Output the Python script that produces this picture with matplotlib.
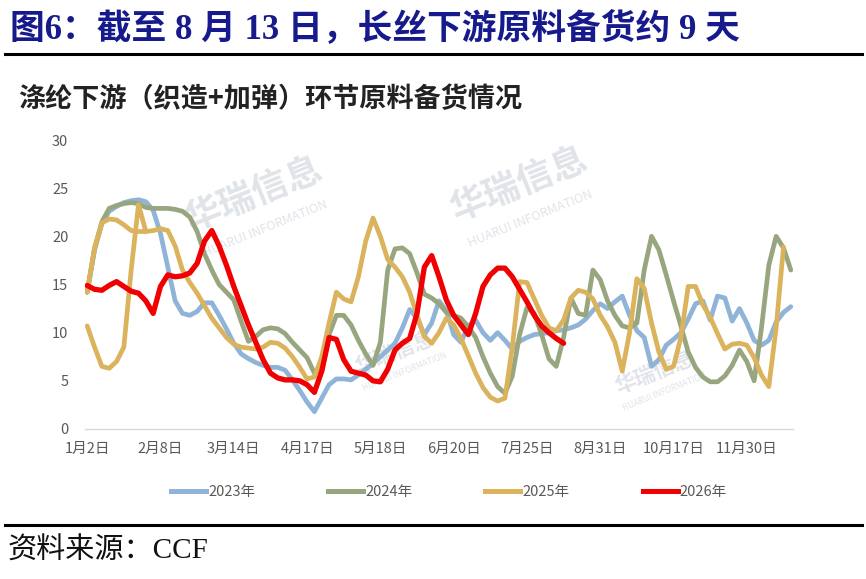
import numpy as np
import matplotlib
matplotlib.use("Agg")
import matplotlib.pyplot as plt
from matplotlib.lines import Line2D

plt.rcParams['font.family'] = ['Noto Sans CJK SC', 'DejaVu Sans']

# x axis categories (every 10th point is labelled)
tick_labels = ['1月2日', '2月8日', '3月14日', '4月17日', '5月18日',
               '6月20日', '7月25日', '8月31日', '10月17日', '11月30日']
tick_step = 10
n_points = 97

# values (days of stock)
y2023 = [14.2, 18.6, 21.3, 22.6, 23.1, 23.5, 23.7, 23.8, 23.6, 22.7,
         20.3, 16.8, 13.3, 12.0, 11.8, 12.2, 13.1, 13.1, 11.8, 10.4,
         8.9, 7.8, 7.3, 6.9, 6.6, 6.4, 6.4, 6.1, 5.1, 4.0,
         2.8, 1.8, 3.2, 4.6, 5.2, 5.2, 5.1, 5.6, 6.2, 6.8,
         7.5, 8.2, 8.9, 10.5, 12.4, 11.5, 9.8, 11.0, 13.3, 12.3,
         9.8, 9.0, 10.7, 11.3, 10.0, 9.2, 10.0, 9.2, 8.3, 9.1,
         9.5, 9.8, 9.9, 10.0, 10.2, 10.3, 10.5, 10.8, 11.4, 12.3,
         13.0, 12.5, 13.2, 13.8, 11.8, 10.2, 9.5, 6.5, 7.2, 8.7,
         9.3, 10.0, 11.4, 13.0, 13.3, 11.3, 13.8, 13.6, 11.2, 12.5,
         11.0, 9.2, 8.7, 9.2, 11.1, 12.1, 12.7]

y2024 = [14.2, 18.7, 21.5, 22.9, 23.2, 23.4, 23.5, 23.4, 23.0, 22.9,
         22.9, 22.9, 22.8, 22.6, 22.0, 20.5, 18.2, 16.5, 15.0, 14.2,
         13.4, 11.2, 9.1, 9.6, 10.3, 10.5, 10.4, 9.9, 9.0, 8.2,
         7.4, 5.8, 6.0, 9.8, 11.8, 11.8, 10.8, 9.2, 7.8, 6.6,
         9.0, 16.5, 18.7, 18.8, 18.2, 16.2, 14.0, 13.6, 13.0, 12.1,
         11.8, 11.5, 10.6, 9.5, 7.5, 5.8, 4.4, 3.7, 5.5, 9.8,
         12.6, 12.0, 9.8, 7.3, 6.5, 9.5, 13.6, 12.0, 11.8, 16.5,
         15.5, 13.3, 11.8, 10.7, 10.5, 11.0, 16.5, 20.0, 18.6, 16.0,
         13.3, 10.7, 8.0, 6.4, 5.4, 4.9, 4.9, 5.5, 6.6, 8.2,
         7.0, 5.0, 10.5, 17.0, 20.0, 18.8, 16.5]

y2025 = [14.2, 18.8, 21.4, 21.8, 21.7, 21.2, 20.6, 20.5, 20.5, 20.6,
         20.8, 20.6, 19.0, 16.5, 15.2, 14.1, 12.8, 11.5, 10.5, 9.5,
         8.8, 8.5, 8.4, 8.3, 8.5, 9.0, 8.9, 8.4, 7.5, 6.4,
         5.2, 5.4, 7.5, 11.0, 14.2, 13.5, 13.2, 15.8, 19.5, 21.9,
         20.0, 17.6, 16.8, 15.8, 14.2, 11.8, 9.6, 8.9, 10.0, 11.5,
         10.8, 9.4, 7.6, 5.8, 4.3, 3.3, 2.9, 3.2, 8.5, 15.3,
         15.2, 13.5, 11.8, 10.5, 10.2, 11.3, 13.6, 14.4, 14.2, 13.5,
         11.8, 10.6, 9.0, 6.0, 10.0, 15.6, 14.6, 11.0, 8.0, 6.2,
         6.5, 9.5, 14.8, 14.8, 12.9, 11.6, 9.9, 8.3, 8.8, 8.9,
         8.7, 7.4, 5.6, 4.4, 10.5, 18.9]

# second gold trace at the start of the year (no legend entry)
y2025_early = [10.7, 8.5, 6.5, 6.3, 7.0, 8.5, 16.5, 23.3, 20.5]

y2026 = [14.9, 14.5, 14.4, 14.9, 15.3, 14.8, 14.3, 14.1, 13.3, 12.0,
         14.8, 16.0, 15.8, 15.9, 16.2, 17.2, 19.5, 20.6, 19.0, 17.0,
         14.8, 12.8, 10.8, 9.0, 7.2, 5.8, 5.3, 5.1, 5.1, 5.0,
         4.6, 3.8, 6.0, 9.5, 9.3, 7.2, 6.0, 5.8, 5.6, 5.0,
         4.9, 6.2, 8.2, 8.9, 9.4, 12.0, 16.8, 18.0, 15.8, 13.4,
         11.8, 10.8, 9.8, 12.0, 14.8, 16.0, 16.7, 16.7, 15.8, 14.5,
         13.2, 11.8, 10.7, 10.0, 9.4, 8.9]

series = [
    ('2023年', y2023, '#8fb4d8', 3.4),
    ('2024年', y2024, '#98a67f', 3.4),
    ('2025年', y2025, '#dbb35c', 3.4),
    ('2026年', y2026, '#f00000', 3.8),
]

W, H = 866, 579
fig = plt.figure(figsize=(W / 100, H / 100), dpi=100)


def fx(x):
    return x / W


def fy(y):
    return 1 - y / H


# plot area in pixels: x 85..793, y 140..429
ax = fig.add_axes([fx(85), fy(429), (793 - 85) / W, (429 - 140) / H])
ax.set_zorder(2)
ax.patch.set_alpha(0)

# watermarks
wm_color = '#e0e4e9'
for (x, y, s1, s2) in [(255, 195, 26, 9), (520, 185, 26, 9),
                       (395, 352, 15, 6), (655, 372, 15, 6)]:
    fig.text(fx(x), fy(y), '华瑞信息', fontsize=s1, fontweight='bold',
             color=wm_color, rotation=22, ha='center', va='center', zorder=0)
    fig.text(fx(x + 10), fy(y + s1 * 1.3), 'HUARUI INFORMATION', fontsize=s2,
             color=wm_color, rotation=22, ha='center', va='center', zorder=0)

x_early = np.arange(len(y2025_early))
for name, vals, color, lw in series:
    xs = np.arange(len(vals))
    ax.plot(xs, vals, color=color, lw=lw, solid_joinstyle='round',
            solid_capstyle='round', label=name)
    if name == '2025年':
        ax.plot(x_early, y2025_early, color=color, lw=lw,
                solid_joinstyle='round', solid_capstyle='round')

ax.set_xlim(-0.3, n_points - 1 + 0.3)
ax.set_ylim(0, 30)
ax.set_yticks(range(0, 31, 5))
ax.set_xticks(range(0, n_points, tick_step))
ax.set_xticklabels(tick_labels)
ax.tick_params(axis='both', length=0, labelsize=10.5, labelcolor='#595959')
ax.tick_params(axis='y', pad=12)
ax.tick_params(axis='x', pad=9)
for side in ['top', 'right', 'left']:
    ax.spines[side].set_visible(False)
ax.spines['bottom'].set_color('#d9d9d9')
ax.spines['bottom'].set_linewidth(1.0)

handles = [Line2D([], [], color=c, lw=3.6) for _, _, c, _ in series]
fig.legend(handles, [s[0] for s in series], loc='center',
           bbox_to_anchor=(fx(449), fy(492)), ncol=4, frameon=False,
           fontsize=10.5, labelcolor='#595959', handlelength=2.4,
           handletextpad=0.15, columnspacing=5.0)

# heading, subtitle and source
fig.text(fx(10), fy(29), '图6：截至 8 月 13 日，长丝下游原料备货约 9 天',
         family=['Liberation Serif', 'Noto Sans CJK SC'], fontweight='bold',
         fontsize=25, color='#161a8c', ha='left', va='center')
fig.text(fx(18), fy(99), '涤纶下游（织造+加弹）环节原料备货情况',
         fontsize=19.5, fontweight='bold', color='#222222', ha='left', va='center')
fig.text(fx(8), fy(551), '资料来源：CCF',
         family=['Liberation Serif', 'Noto Sans CJK SC'],
         fontsize=21, color='#111111', ha='left', va='center')

for y in (54, 525):
    fig.add_artist(Line2D([fx(5), fx(862)], [fy(y), fy(y)],
                          transform=fig.transFigure, color='black', lw=2.2))

fig.savefig('out.png', dpi=100)
